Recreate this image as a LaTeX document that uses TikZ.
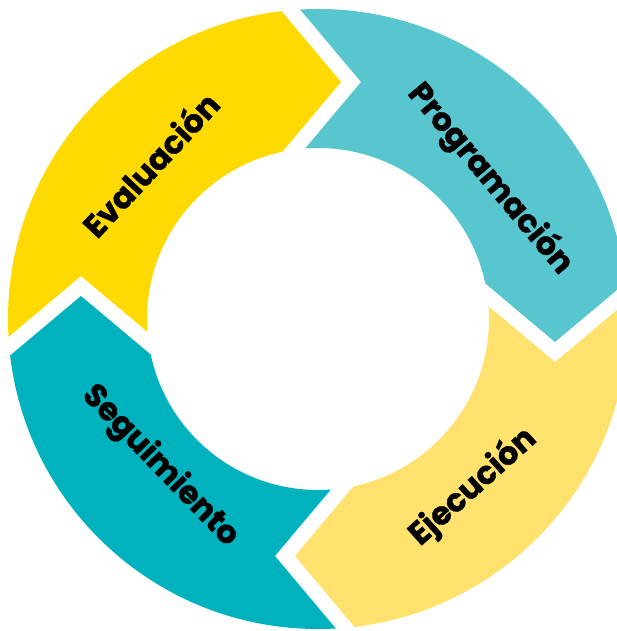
\documentclass[tikz,border=0pt]{standalone}
\usepackage{fontspec}
\setmainfont{Poppins}[BoldFeatures={FakeBold=1.2}]
\usepackage{tikz}
\definecolor{evalyellow}{RGB}{255,218,0}
\definecolor{progteal}{RGB}{88,198,206}
\definecolor{ejecyellow}{RGB}{255,226,110}
\definecolor{segteal}{RGB}{0,178,189}
\tikzstyle{phase}=[font=\bfseries\fontsize{32}{32}\selectfont, text=black, inner sep=0pt]

\begin{document}
\begin{tikzpicture}[x=1pt, y=1pt]
\useasboundingbox (-318,-312) rectangle (299,319);
\clip (-318,-312) rectangle (299,319);
% four arrow segments, one shape turned by quarter turns
\foreach \ang/\col in {0/evalyellow, -90/progteal, -180/ejecyellow, -270/segteal}{
  \begin{scope}[rotate=\ang]
    \clip (-237,43) -- (-428.5,-117.75) -- (-428.5,390.2) -- (-105.6,390.2) -- (23,237)
          -- (-54.2,145.1) -- (0,0) -- (-145.1,-34.2) -- cycle;
    \fill[\col, even odd rule] (0,0) circle (310) (0,0) circle (171);
  \end{scope}
}
\node[phase, rotate=47] (eval) at (-168,155) {Evaluación};
\node[phase, rotate=-50] (prog) at (172,140) {Programación};
\node[phase, rotate=42] (ejec) at (155,-168) {Ejecución};
\node[phase, rotate=-46] (segu) at (-158,-147) {Seguimiento};
\end{tikzpicture}
\end{document}
